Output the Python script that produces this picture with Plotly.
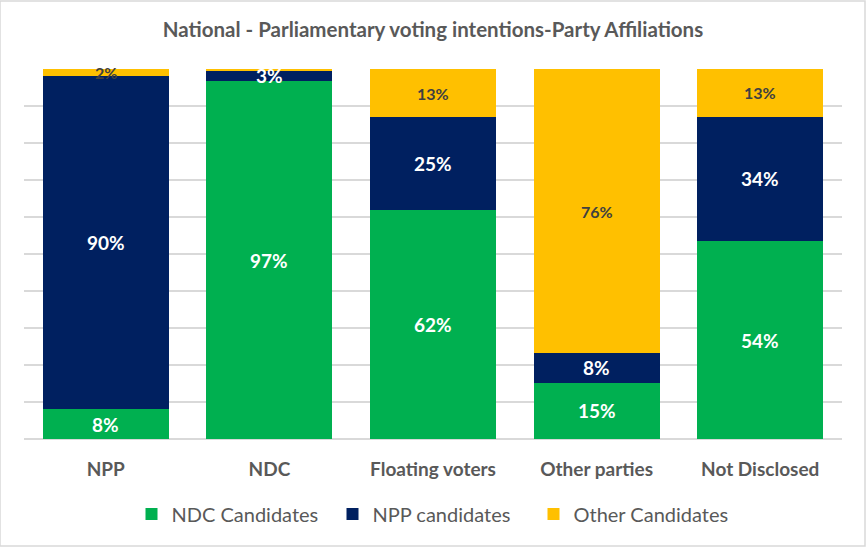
import plotly.graph_objects as go

categories = ["NPP", "NDC", "Floating voters", "Other parties", "Not Disclosed"]
ndc_cand = [8, 97, 62, 15, 54]
npp_cand = [90, 3, 25, 8, 34]
other_cand = [2, 0.3, 13, 76, 13]
ndc_labels = ["8%", "97%", "62%", "15%", "54%"]
npp_labels = ["90%", "3%", "25%", "8%", "34%"]
other_labels = ["2%", "", "13%", "76%", "13%"]

series = [
    ("NDC Candidates", ndc_cand, ndc_labels, "#00B050", "white", 19),
    ("NPP candidates", npp_cand, npp_labels, "#002060", "white", 19),
    ("Other Candidates", other_cand, other_labels, "#FFC000", "#404040", 16),
]

fig = go.Figure()
for name, vals, _, col, _, _ in series:
    fig.add_trace(go.Bar(x=categories, y=vals, name=name, marker_color=col,
                         marker_line_width=0, textposition="none", hoverinfo="skip"))

totals = [sum(s[1][i] for s in series) for i in range(len(categories))]
annotations = []
cum = [0.0] * len(categories)
for name, vals, labels, col, tcol, tsize in series:
    for i, c in enumerate(categories):
        mid = (cum[i] + vals[i] / 2) / totals[i] * 100
        if labels[i]:
            annotations.append(dict(x=c, y=mid, text=f"<b>{labels[i]}</b>", showarrow=False,
                                    font=dict(color=tcol, size=tsize, family="Lato"),
                                    xref="x", yref="y"))
        cum[i] += vals[i]

fig.update_layout(
    barmode="stack",
    barnorm="percent",
    bargap=0.23,
    width=866, height=547,
    margin=dict(l=24, r=24, t=69, b=108),
    paper_bgcolor="white",
    plot_bgcolor="white",
    font=dict(family="Lato", color="#595959"),
    title=dict(text="<b>National - Parliamentary voting intentions-Party Affiliations</b>",
               x=0.5, xanchor="center", y=0.945, yanchor="middle",
               font=dict(size=20.5, color="#595959", family="Lato")),
    legend=dict(orientation="h", x=0.5, xanchor="center", y=-0.203, yanchor="middle",
                font=dict(size=20, color="#595959", family="Lato"), traceorder="normal",
                entrywidth=156, itemwidth=30),
    annotations=annotations,
    shapes=[dict(type="rect", xref="paper", yref="paper", x0=-24/818, x1=1+23/818,
                 y0=-107/370, y1=1+68/370, line=dict(color="#D9D9D9", width=1.5))],
)
fig.update_xaxes(showgrid=False, showline=False, ticks="", ticklabelstandoff=17,
                 tickfont=dict(size=19, color="#595959", family="Lato"),
                 tickprefix="<b>", ticksuffix="</b>")
fig.update_yaxes(range=[0, 100], dtick=10, showticklabels=False, showgrid=True,
                 gridcolor="#D9D9D9", gridwidth=1.5, zeroline=True, zerolinecolor="#D9D9D9",
                 zerolinewidth=1.5)

fig.write_html("out.html")
